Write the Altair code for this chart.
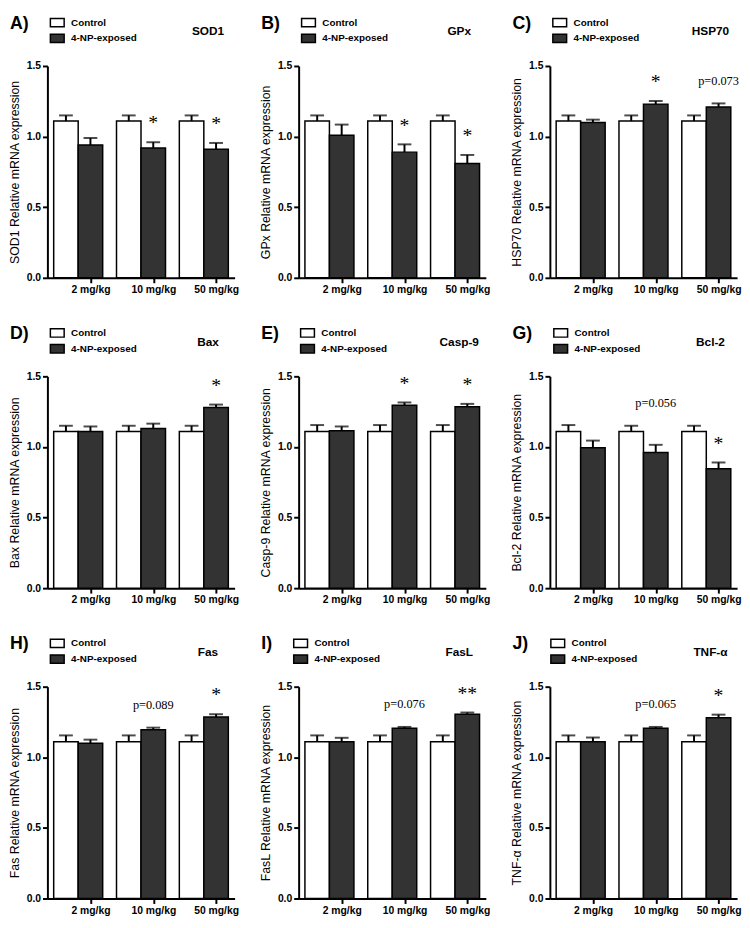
import altair as alt
import pandas as pd

genes = ["SOD1", "GPx", "HSP70", "Bax", "Casp-9", "Bcl-2", "Fas", "FasL", "TNF-α"]
letters = ["A)", "B)", "C)", "D)", "E)", "G)", "H)", "I)", "J)"]
doses = ["2 mg/kg", "10 mg/kg", "50 mg/kg"]
groups = ["Control", "4-NP-exposed"]

control_mean = [
    [1.11, 1.11, 1.11], [1.11, 1.11, 1.11], [1.11, 1.11, 1.11],
    [1.11, 1.11, 1.11], [1.11, 1.11, 1.11], [1.11, 1.11, 1.11],
    [1.11, 1.11, 1.11], [1.11, 1.11, 1.11], [1.11, 1.11, 1.11],
]
control_sem = [
    [0.04, 0.04, 0.04], [0.04, 0.04, 0.04], [0.04, 0.04, 0.04],
    [0.04, 0.04, 0.04], [0.045, 0.045, 0.045], [0.045, 0.04, 0.04],
    [0.045, 0.045, 0.045], [0.045, 0.045, 0.045], [0.045, 0.045, 0.045],
]
exposed_mean = [
    [0.94, 0.92, 0.91],
    [1.01, 0.89, 0.81],
    [1.10, 1.23, 1.21],
    [1.11, 1.13, 1.28],
    [1.115, 1.295, 1.285],
    [0.995, 0.96, 0.845],
    [1.10, 1.195, 1.285],
    [1.11, 1.205, 1.305],
    [1.11, 1.205, 1.28],
]
exposed_sem = [
    [0.05, 0.04, 0.045],
    [0.075, 0.055, 0.06],
    [0.02, 0.022, 0.025],
    [0.035, 0.035, 0.02],
    [0.03, 0.02, 0.02],
    [0.05, 0.055, 0.045],
    [0.025, 0.015, 0.02],
    [0.028, 0.01, 0.012],
    [0.03, 0.01, 0.022],
]
# annotation labels per gene and dose ("" = none)
annotations = [
    ["", "*", "*"],
    ["", "*", "*"],
    ["", "*", "p=0.073"],
    ["", "", "*"],
    ["", "*", "*"],
    ["", "p=0.056", "*"],
    ["", "p=0.089", "*"],
    ["", "p=0.076", "**"],
    ["", "p=0.065", "*"],
]

W, H = 190, 215
SANS = "Liberation Sans"
SERIF = "Liberation Serif"


def panel(i):
    rows = []
    for j, d in enumerate(doses):
        rows.append({"dose": d, "group": "Control", "mean": control_mean[i][j],
                     "sem": control_sem[i][j]})
        rows.append({"dose": d, "group": "4-NP-exposed", "mean": exposed_mean[i][j],
                     "sem": exposed_sem[i][j]})
    df = pd.DataFrame(rows)
    df["top"] = df["mean"] + df["sem"]

    ann = []
    for j, d in enumerate(doses):
        lab = annotations[i][j]
        if not lab:
            continue
        ctop = control_mean[i][j] + control_sem[i][j]
        etop = exposed_mean[i][j] + exposed_sem[i][j]
        ypos = etop if lab.startswith("*") else max(ctop, etop)
        ann.append({"dose": d, "group": "4-NP-exposed", "label": lab, "ypos": ypos,
                    "kind": "star" if lab.startswith("*") else "p"})
    adf = pd.DataFrame(ann)

    xs = alt.X("dose:N", sort=doses, title=None,
               scale=alt.Scale(domain=doses, paddingInner=0.22, paddingOuter=0.1),
               axis=alt.Axis(labelAngle=0, tickOffset=12.5, labelFontWeight="bold",
                             labelFontSize=10.5, labelPadding=2, labelFont=SANS))
    xo = alt.XOffset("group:N", sort=groups,
                     scale=alt.Scale(domain=groups, paddingInner=0, paddingOuter=0))

    def ys(field):
        return alt.Y(field, title=f"{genes[i]} Relative mRNA expression",
                     scale=alt.Scale(domain=[0, 1.5], nice=False, zero=True),
                     axis=alt.Axis(values=[0, 0.5, 1.0, 1.5], format=".1f",
                                   labelFontWeight="bold", labelFontSize=10.5,
                                   labelPadding=2, titleFontSize=12.5,
                                   titleFontWeight="normal", titleFont=SANS,
                                   titlePadding=5, labelFont=SANS))

    bars = alt.Chart(df).mark_bar(stroke="black", strokeWidth=1.5).encode(
        x=xs, xOffset=xo, y=ys("mean:Q"),
        color=alt.Color("group:N", sort=groups,
                        scale=alt.Scale(domain=groups, range=["#ffffff", "#333333"]),
                        legend=alt.Legend(title=letters[i], titleOrient="left",
                                          orient="none", legendX=-38, legendY=-52)),
    )
    rule = alt.Chart(df).mark_rule(color="black", strokeWidth=2).encode(
        x=xs, xOffset=xo, y=ys("mean:Q"), y2="top:Q")
    cap = alt.Chart(df).mark_tick(color="black", thickness=2, size=14,
                                  orient="horizontal").encode(
        x=xs, xOffset=xo, y=ys("top:Q"))
    stars = alt.Chart(adf).transform_filter(alt.datum.kind == "star").mark_text(
        font=SERIF, fontSize=20, baseline="middle", dy=-19, color="black").encode(
        x=xs, xOffset=xo, y=ys("ypos:Q"), text="label:N")
    ptext = alt.Chart(adf).transform_filter(alt.datum.kind == "p").mark_text(
        font=SERIF, fontSize=12.5, baseline="middle", dy=-23, color="black").encode(
        x=xs, xOffset=xo, y=ys("ypos:Q"), text="label:N")

    return alt.layer(bars, rule, cap, stars, ptext).properties(
        width=W, height=H,
        title=alt.TitleParams(genes[i], anchor="middle", dx=68, offset=-24,
                              font=SANS, fontSize=12, fontWeight="bold"),
    )


rows = []
for r in range(3):
    rows.append(alt.hconcat(*[panel(3 * r + c) for c in range(3)], spacing=20)
                .resolve_scale(color="independent", x="independent", y="independent",
                               xOffset="independent")
                .resolve_legend(color="independent"))

chart = alt.vconcat(*rows, spacing=30).resolve_scale(
    color="independent", x="independent", y="independent", xOffset="independent"
).resolve_legend(color="independent").configure_view(stroke=None).configure_axis(
    grid=False, domainColor="black", domainWidth=2, tickColor="black", tickWidth=2,
    tickSize=5, labelColor="black", titleColor="black"
).configure_legend(
    symbolType="M-1,-0.6H1V0.6H-1Z", symbolSize=196, symbolStrokeColor="black",
    symbolStrokeWidth=1.5, labelFont=SANS, labelFontSize=10, labelFontWeight="bold",
    labelColor="black", labelOffset=6, rowPadding=-2, titleFont=SANS, titleFontSize=18,
    titleFontWeight="bold", titleColor="black", titlePadding=21, titleBaseline="top",
    titleAnchor="start", padding=0
).configure_title(color="black").properties(padding={"left": 0, "top": 0, "right": 0, "bottom": 0})

chart.save("out.html", embed_options={"renderer": "svg", "actions": False})
